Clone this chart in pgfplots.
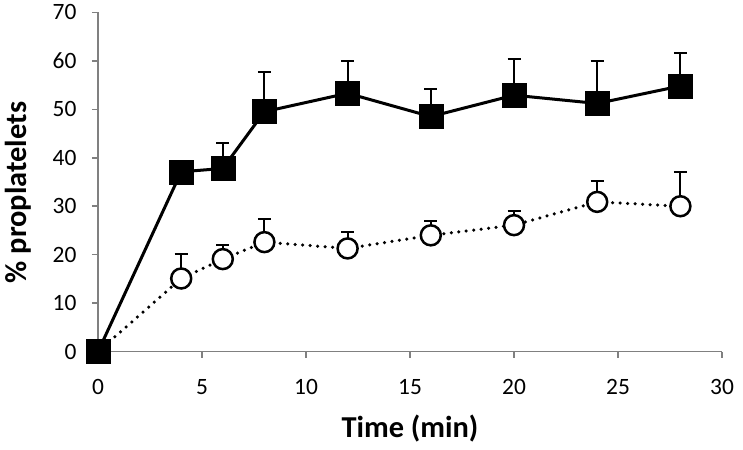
\documentclass[border=0pt]{standalone}
\usepackage{pgfplots}
\pgfplotsset{compat=1.18}
\usepackage{fontspec}
\setmainfont{Carlito}
\definecolor{axgray}{gray}{0.5}
\begin{document}
\begin{tikzpicture}
\begin{axis}[
  scale only axis, width=624bp, height=339.4bp,
  xmin=0, xmax=30, ymin=0, ymax=70,
  axis x line=bottom, axis y line=left,
  axis line style={-, axgray, line width=1.5bp},
  xtick={0,5,...,30}, ytick={0,10,...,70},
  tick align=outside, major tick length=6bp,
  tick style={axgray, line width=1.5bp},
  /pgf/number format/assume math mode=true,
  tick label style={font=\fontsize{23.5}{28}\selectfont},
  xticklabel style={anchor=base, yshift=-37bp},
  yticklabel style={anchor=east, xshift=-12bp},
  xlabel={Time (min)}, ylabel={\% proplatelets},
  label style={font=\bfseries\fontsize{30.5}{36}\selectfont},
  xlabel style={at={(axis description cs:0.5,0)}, anchor=center, yshift=-77bp},
  ylabel style={at={(axis description cs:-0.128,0.469)}, anchor=center, rotate=0},
  clip=false,
]
% open circles, dotted
\addplot[black, line width=3.5bp, dash pattern=on 0pt off 7.5bp, line cap=round,
  mark=*, mark size=10bp, mark options={solid, fill=white, draw=black, line width=2.5bp},
  error bars/.cd, y dir=plus, y explicit,
  error bar style={solid, line width=2bp, line cap=butt},
  error mark options={rotate=90, line width=2bp, mark size=6.5bp, line cap=butt}]
coordinates {
 (0,0) +- (0,0)
 (4,15.1) +- (0,5.0)
 (6,19.1) +- (0,2.9)
 (8,22.6) +- (0,4.7)
 (12,21.3) +- (0,3.4)
 (16,24.0) +- (0,3.0)
 (20,26.1) +- (0,3.0)
 (24,30.9) +- (0,4.3)
 (28,30.0) +- (0,7.0)
};
% filled squares, solid
\addplot[black, line width=3bp,
  mark=square*, mark size=12bp, mark options={solid, fill=black, draw=black, line width=0.5bp},
  error bars/.cd, y dir=plus, y explicit,
  error bar style={solid, line width=2bp, line cap=butt},
  error mark options={rotate=90, line width=2bp, mark size=6.5bp, line cap=butt}]
coordinates {
 (0,0) +- (0,0)
 (4,37.1) +- (0,1.0)
 (6,37.8) +- (0,5.3)
 (8,49.5) +- (0,8.2)
 (12,53.3) +- (0,6.6)
 (16,48.5) +- (0,5.7)
 (20,52.9) +- (0,7.5)
 (24,51.2) +- (0,8.7)
 (28,54.8) +- (0,6.9)
};
\end{axis}
\pgfresetboundingbox
\path[use as bounding box] (-98bp,-98.3bp) rectangle (645bp,351.7bp);
\end{tikzpicture}
\end{document}
